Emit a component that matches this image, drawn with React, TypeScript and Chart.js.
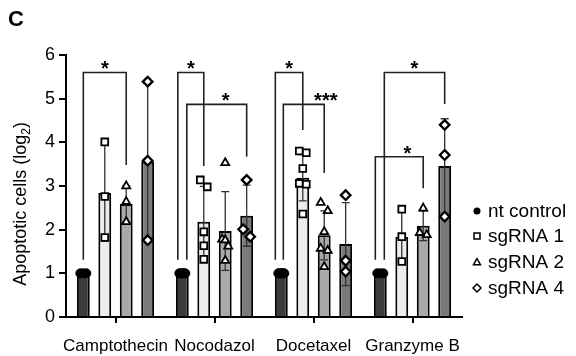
import React, { useEffect, useRef } from 'react';
import { Chart, registerables } from 'chart.js';

Chart.register(...registerables);

// ---------- data ----------
const categories = ['Camptothecin', 'Nocodazol', 'Docetaxel', 'Granzyme B'];
const seriesNames = ['nt control', 'sgRNA 1', 'sgRNA 2', 'sgRNA 4'];
const yTitleMain = 'Apoptotic cells (log';
const yTitleSub = '2';
const yTitleEnd = ')';

// bar heights (means)
const ntMeans = [1, 1, 1, 1];
const sg1Means = [2.84, 2.18, 3.19, 1.84];
const sg2Means = [2.59, 1.97, 1.87, 2.09];
const sg4Means = [3.56, 2.32, 1.67, 3.46];

// error (SD)
const ntSD = [0, 0, 0, 0];
const sg1SD = [1.1, 0.81, 0.53, 0.6];
const sg2SD = [0.41, 0.9, 0.56, 0.34];
const sg4SD = [1.8, 0.7, 0.95, 1.08];

// individual replicates
const ntPoints = [[1, 1, 1], [1, 1, 1, 1, 1], [1, 1, 1, 1, 1, 1], [1, 1, 1]];
const sg1Points = [[4.01, 2.76, 1.82], [3.14, 2.98, 1.95, 1.63, 1.32], [3.8, 3.76, 3.4, 3.06, 3.04, 2.36], [2.47, 1.84, 1.27]];
const sg2Points = [[3.0, 2.64, 2.18], [3.53, 1.78, 1.76, 1.62, 1.29], [2.62, 2.43, 1.95, 1.57, 1.52, 1.15], [2.49, 1.88, 1.93]];
const sg4Points = [[5.39, 3.58, 1.76], [3.14, 2.01, 1.84], [2.79, 1.29, 1.04], [4.4, 3.71, 2.3]];

const yTicks = [0, 1, 2, 3, 4, 5, 6];

// significance brackets
const bracketGroup = [0, 1, 1, 2, 2, 3, 3];
const bracketFrom = [0, 0, 0, 0, 0, 0, 0];
const bracketTo = [2, 1, 3, 1, 2, 3, 2];
const bracketTop = [5.6, 5.6, 4.87, 5.6, 4.87, 5.6, 3.67];
const bracketLeftEnd = [1.31, 1.31, 1.31, 1.31, 1.31, 1.31, 1.31];
const bracketRightEnd = [3.48, 3.46, 3.67, 4.28, 3.3, 4.88, 2.95];
const bracketLabel = ['*', '*', '*', '*', '***', '*', '*'];

// ---------- style ----------
const FONT = "'Liberation Sans', Arial, Helvetica, sans-serif";
const barColors = ['#3c3c3c', '#ececec', '#a9a9a9', '#7a7a7a'];
const pointStyles = ['circle', 'rect', 'triangle', 'rectRot'];
const pointFills = ['#000', '#fff', '#fff', '#fff'];
const pointRadius = [4.5, 4.8, 4.6, 4.8];
const pointBorder = [1, 1.8, 1.8, 2.3];
const SLOT = 0.2167; // fraction of a category per series
const BAR_RATIO = 0.6;
const PX_PER_UNIT = 99;
const legShift = [0, -4.5, 4.5, -6, 2, 4, -5];
const starShift = [0, 0, 9, 0, 22, 0, 8];

const means = [ntMeans, sg1Means, sg2Means, sg4Means];
const sds = [ntSD, sg1SD, sg2SD, sg4SD];
const points = [ntPoints, sg1Points, sg2Points, sg4Points];

function jitter(vals: number[]): number[] {
  const idx = vals.map((_, i) => i).sort((a, b) => vals[b] - vals[a]);
  const off = new Array(vals.length).fill(0);
  let start = 0;
  for (let k = 1; k <= idx.length; k++) {
    if (k === idx.length || vals[idx[k - 1]] - vals[idx[k]] > 0.2) {
      const n = k - start;
      if (n > 1) {
        const half = n === 2 ? 3.5 : 3;
        for (let j = 0; j < n; j++) off[idx[start + j]] = -half + (2 * half * j) / (n - 1);
      }
      start = k;
    }
  }
  return off;
}

const slotX = (gi: number, si: number) => gi + (si - 1.5) * SLOT;

function buildPoints(si: number) {
  const out: { x: number; y: number }[] = [];
  points[si].forEach((vals, gi) => {
    const off = jitter(vals);
    vals.forEach((v, k) => {
      out.push({ x: slotX(gi, si) + off[k] / PX_PER_UNIT, y: v });
    });
  });
  return out;
}

function buildBars(si: number) {
  return means[si].map((m, gi) => ({ x: slotX(gi, si), y: m }));
}

const overlayPlugin = {
  id: 'overlay',
  afterDatasetDraw(chart: any, args: any) {
    const ds = chart.data.datasets[args.index];
    if (ds.type !== 'bar') return;
    const si = ds.seriesIndex;
    const y = chart.scales.y;
    const ctx = chart.ctx;
    const meta = args.meta;
    ctx.save();
    ctx.strokeStyle = '#333';
    ctx.lineWidth = 1.3;
    meta.data.forEach((el: any, gi: number) => {
      const sd = sds[si][gi];
      if (!sd) return;
      const m = means[si][gi];
      const yt = y.getPixelForValue(m + sd);
      const yb = y.getPixelForValue(m - sd);
      ctx.beginPath();
      ctx.moveTo(el.x, yt);
      ctx.lineTo(el.x, yb);
      ctx.moveTo(el.x - 4, yt);
      ctx.lineTo(el.x + 4, yt);
      ctx.moveTo(el.x - 4, yb);
      ctx.lineTo(el.x + 4, yb);
      ctx.stroke();
    });
    ctx.restore();
  },
  afterDatasetsDraw(chart: any) {
    const ctx = chart.ctx;
    const y = chart.scales.y;
    const barMeta = (si: number) => chart.getDatasetMeta(si);
    ctx.save();
    ctx.strokeStyle = '#222';
    ctx.lineWidth = 1.6;
    ctx.fillStyle = '#000';
    ctx.font = `bold 20px ${FONT}`;
    ctx.textAlign = 'center';
    ctx.textBaseline = 'alphabetic';
    bracketGroup.forEach((gi, k) => {
      const xl = barMeta(bracketFrom[k]).data[gi].x + legShift[k];
      const xr = barMeta(bracketTo[k]).data[gi].x;
      const yt = y.getPixelForValue(bracketTop[k]);
      ctx.beginPath();
      ctx.moveTo(xl, y.getPixelForValue(bracketLeftEnd[k]));
      ctx.lineTo(xl, yt);
      ctx.lineTo(xr, yt);
      ctx.lineTo(xr, y.getPixelForValue(bracketRightEnd[k]));
      ctx.stroke();
      ctx.fillText(bracketLabel[k], (xl + xr) / 2 + starShift[k], yt + 3);
    });
    ctx.restore();
  },
  afterDraw(chart: any) {
    const ctx = chart.ctx;
    ctx.save();
    // panel letter
    ctx.fillStyle = '#000';
    ctx.font = `bold 22px ${FONT}`;
    ctx.textAlign = 'left';
    ctx.textBaseline = 'alphabetic';
    ctx.fillText('C', 8, 26);

    // y axis title with subscript
    ctx.save();
    ctx.translate(26, 204);
    ctx.rotate(-Math.PI / 2);
    ctx.font = `18px ${FONT}`;
    const wMain = ctx.measureText(yTitleMain).width;
    ctx.font = `12px ${FONT}`;
    const wSub = ctx.measureText(yTitleSub).width;
    ctx.font = `18px ${FONT}`;
    const wEnd = ctx.measureText(yTitleEnd).width;
    const total = wMain + wSub + wEnd;
    let tx = -total / 2;
    ctx.textAlign = 'left';
    ctx.textBaseline = 'alphabetic';
    ctx.fillText(yTitleMain, tx, 0);
    tx += wMain;
    ctx.font = `12px ${FONT}`;
    ctx.fillText(yTitleSub, tx, 4);
    tx += wSub;
    ctx.font = `18px ${FONT}`;
    ctx.fillText(yTitleEnd, tx, 0);
    ctx.restore();

    // legend
    const lx = 477;
    const ly = [211, 236, 262, 288];
    ctx.font = `19px ${FONT}`;
    ctx.textBaseline = 'middle';
    seriesNames.forEach((name, i) => {
      const cy = ly[i];
      ctx.lineWidth = 1.5;
      ctx.strokeStyle = '#000';
      ctx.fillStyle = pointFills[i];
      ctx.beginPath();
      if (i === 0) {
        ctx.arc(lx, cy, 3.5, 0, Math.PI * 2);
        ctx.fillStyle = '#000';
        ctx.fill();
      } else {
        if (i === 1) ctx.rect(lx - 3, cy - 3, 6, 6);
        if (i === 2) {
          ctx.moveTo(lx, cy - 3.5);
          ctx.lineTo(lx + 3.5, cy + 2.8);
          ctx.lineTo(lx - 3.5, cy + 2.8);
          ctx.closePath();
        }
        if (i === 3) {
          ctx.moveTo(lx, cy - 4);
          ctx.lineTo(lx + 4, cy);
          ctx.lineTo(lx, cy + 4);
          ctx.lineTo(lx - 4, cy);
          ctx.closePath();
        }
        ctx.fill();
        ctx.stroke();
      }
      ctx.fillStyle = '#000';
      ctx.fillText(name, lx + 11, cy + 1);
    });
    ctx.restore();
  },
};

export default function App() {
  const ref = useRef<HTMLCanvasElement | null>(null);
  useEffect(() => {
    document.body.style.margin = '0';
    Chart.defaults.font.family = FONT;
    Chart.defaults.color = '#000';
    const barSets = seriesNames.map((name, si) => ({
      type: 'bar' as const,
      label: name,
      seriesIndex: si,
      data: buildBars(si),
      xAxisID: 'xp',
      yAxisID: 'y',
      grouped: false,
      backgroundColor: barColors[si],
      borderColor: '#000',
      borderWidth: 2,
      categoryPercentage: 1,
      barPercentage: BAR_RATIO,
      order: 1,
    }));
    const pointSets = seriesNames.map((name, si) => ({
      type: 'scatter' as const,
      label: name + ' points',
      data: buildPoints(si),
      xAxisID: 'xp',
      yAxisID: 'y',
      pointStyle: pointStyles[si],
      radius: pointRadius[si],
      backgroundColor: pointFills[si],
      borderColor: '#000',
      borderWidth: pointBorder[si],
      showLine: false,
      order: 0,
    }));
    const chart = new Chart(ref.current as HTMLCanvasElement, {
      type: 'bar',
      data: { labels: categories, datasets: [...barSets, ...pointSets] as any },
      options: {
        animation: false,
        responsive: false,
        layout: { padding: { left: 0, top: 55, right: 114, bottom: 0 } },
        plugins: { legend: { display: false }, tooltip: { enabled: false } },
        scales: {
          x: {
            type: 'category',
            labels: categories,
            offset: true,
            grid: { display: true, drawOnChartArea: false, drawTicks: true, tickLength: 6, offset: false, color: '#000', lineWidth: 2 },
            border: { display: true, color: '#000', width: 2 },
            ticks: { color: '#000', font: { size: 17 }, autoSkip: false, maxRotation: 0, minRotation: 0, padding: 13 },
            afterFit: (s: any) => { s.height = 39; },
          },
          xp: {
            type: 'linear',
            position: 'bottom',
            min: -0.5,
            max: 3.5,
            offset: false,
            display: false,
            grid: { offset: false },
            ticks: { stepSize: 1 },
          },
          y: {
            min: yTicks[0],
            max: yTicks[yTicks.length - 1],
            afterBuildTicks: (s: any) => { s.ticks = yTicks.map((v) => ({ value: v })); },
            grid: { display: true, drawOnChartArea: false, drawTicks: true, tickLength: 7, color: '#000', lineWidth: 2 },
            border: { display: true, color: '#000', width: 2 },
            ticks: { color: '#000', font: { size: 18 }, padding: 4 },
            afterFit: (s: any) => { s.width = 66; },
          },
        },
      } as any,
      plugins: [overlayPlugin],
    });
    return () => chart.destroy();
  }, []);
  return (
    <div style={{ width: 576, height: 356, background: '#fff' }}>
      <canvas ref={ref} width={576} height={356} />
    </div>
  );
}
